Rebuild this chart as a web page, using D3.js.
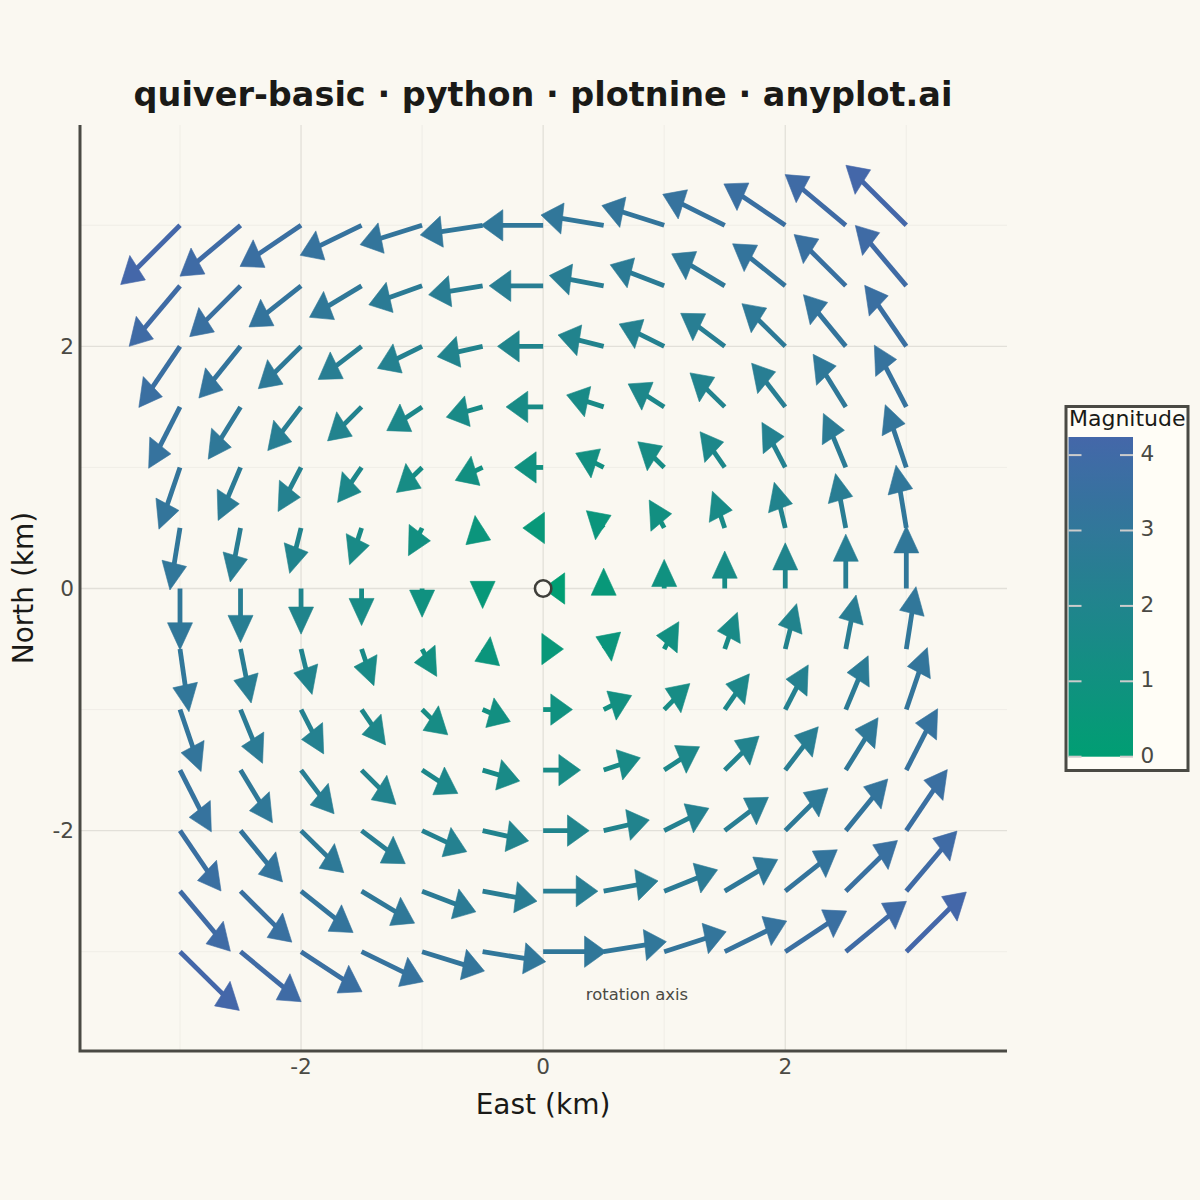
<!DOCTYPE html>
<html><head><meta charset="utf-8">
<script src="https://cdn.jsdelivr.net/npm/d3@7"></script>
<style>html,body{margin:0;padding:0;background:#FAF8F1}svg{display:block}text{font-family:"DejaVu Sans",sans-serif}</style>
</head><body><div id="chart"></div>
<script>
const titleText = "quiver-basic · python · plotnine · anyplot.ai";
const gridX = [-3,-2.5,-2,-1.5,-1,-0.5,0,0.5,1,1.5,2,2.5,3];
const gridY = [3,2.5,2,1.5,1,0.5,0,-0.5,-1,-1.5,-2,-2.5,-3];
const xTicks = [-2,0,2];
const yTicks = [-2,0,2];
const xMinor = [-3,-1,1,3];
const yMinor = [-3,-1,1,3];
const legendTicks = [0,1,2,3,4];
const uRows = [
[-.49,-.50,-.504,-.507,-.512,-.515,-.512,-.518,-.515,-.512,-.507,-.501,-.499],
[-.42,-.42,-.43,-.43,-.44,-.446,-.446,-.449,-.446,-.438,-.435,-.427,-.421],
[-.34,-.344,-.353,-.358,-.369,-.375,-.377,-.377,-.372,-.364,-.358,-.35,-.344],
[-.259,-.267,-.275,-.281,-.292,-.30,-.306,-.306,-.298,-.287,-.278,-.27,-.264],
[-.174,-.185,-.19,-.198,-.212,-.226,-.237,-.231,-.218,-.204,-.193,-.185,-.174],
[-.083,-.085,-.094,-.099,-.113,-.138,-.168,-.143,-.124,-.102,-.091,-.085,-.085],
[0,0,0,0,0,0,-.001,0,0,0,0,0,0],
[.074,.088,.091,.102,.121,.14,.168,.14,.121,.105,.094,.085,.08],
[.174,.182,.187,.198,.212,.229,.242,.231,.212,.204,.19,.185,.174],
[.259,.264,.273,.284,.295,.306,.309,.303,.292,.284,.273,.267,.259],
[.339,.347,.353,.361,.369,.38,.38,.377,.369,.361,.353,.347,.339],
[.416,.424,.43,.438,.444,.449,.452,.449,.441,.438,.43,.427,.419],
[.49,.501,.504,.51,.515,.521,.521,.518,.512,.512,.507,.501,.496]];
const vRows = [
[-.49,-.42,-.34,-.248,-.16,-.08,0,.085,.163,.256,.342,.419,.496],
[-.50,-.42,-.34,-.26,-.157,-.074,0,.085,.174,.264,.347,.424,.499],
[-.504,-.427,-.35,-.273,-.182,-.085,0,.094,.185,.273,.353,.427,.504],
[-.507,-.432,-.361,-.281,-.196,-.085,0,.099,.19,.281,.361,.435,.51],
[-.51,-.438,-.364,-.289,-.207,-.107,0,.118,.212,.295,.372,.446,.518],
[-.512,-.446,-.375,-.303,-.229,-.138,0,.143,.231,.303,.377,.449,.518],
[-.507,-.446,-.377,-.306,-.237,-.165,0,.168,.24,.309,.377,.449,.518],
[-.518,-.446,-.375,-.303,-.226,-.138,0,.14,.226,.303,.375,.446,.515],
[-.512,-.444,-.366,-.292,-.209,-.099,0,.116,.215,.295,.369,.444,.512],
[-.51,-.435,-.361,-.284,-.193,-.091,0,.102,.193,.281,.358,.433,.507],
[-.499,-.424,-.347,-.273,-.174,-.085,0,.088,.185,.275,.353,.427,.504],
[-.496,-.421,-.342,-.264,-.171,-.083,0,.085,.176,.262,.342,.419,.496],
[-.485,-.413,-.331,-.248,-.16,-.083,0,.083,.165,.253,.336,.416,.493]];
const magRows = [
[4.24,3.91,3.61,3.35,3.16,3.04,3,3.04,3.16,3.35,3.61,3.91,4.24],
[3.91,3.54,3.2,2.92,2.69,2.55,2.5,2.55,2.69,2.92,3.2,3.54,3.91],
[3.61,3.2,2.83,2.5,2.24,2.06,2,2.06,2.24,2.5,2.83,3.2,3.61],
[3.35,2.92,2.5,2.12,1.8,1.58,1.5,1.58,1.8,2.12,2.5,2.92,3.35],
[3.16,2.69,2.24,1.8,1.41,1.12,1,1.12,1.41,1.8,2.24,2.69,3.16],
[3.04,2.55,2.06,1.58,1.12,.71,.5,.71,1.12,1.58,2.06,2.55,3.04],
[3,2.5,2,1.5,1,.5,0,.5,1,1.5,2,2.5,3],
[3.04,2.55,2.06,1.58,1.12,.71,.5,.71,1.12,1.58,2.06,2.55,3.04],
[3.16,2.69,2.24,1.8,1.41,1.12,1,1.12,1.41,1.8,2.24,2.69,3.16],
[3.35,2.92,2.5,2.12,1.8,1.58,1.5,1.58,1.8,2.12,2.5,2.92,3.35],
[3.61,3.2,2.83,2.5,2.24,2.06,2,2.06,2.24,2.5,2.83,3.2,3.61],
[3.91,3.54,3.2,2.92,2.69,2.55,2.5,2.55,2.69,2.92,3.2,3.54,3.91],
[4.24,3.91,3.61,3.35,3.16,3.04,3,3.04,3.16,3.35,3.61,3.91,4.24]];
const colorLow = "#009E73", colorHigh = "#4467A9";
const BG = "#FAF8F1", INK = "#1A1A17", SOFT = "#4A4A44";

const L = 80, R = 1007, T = 125, B = 1051;
const x = d3.scaleLinear().domain([-3, 3]).range([180, 906.3]);
const y = d3.scaleLinear().domain([-3, 3]).range([951.7, 225.3]);
const color = d3.scaleLinear().domain([0, 4.24]).range([colorLow, colorHigh]).interpolate(d3.interpolateRgb);

const svg = d3.select("#chart").append("svg").attr("width",1200).attr("height",1200);
svg.append("rect").attr("width",1200).attr("height",1200).attr("fill",BG);

// grid
const g = svg.append("g");
xMinor.forEach(v => g.append("line").attr("x1",x(v)).attr("x2",x(v)).attr("y1",T).attr("y2",B).attr("stroke","#EDEBE4").attr("stroke-width",0.8));
yMinor.forEach(v => g.append("line").attr("y1",y(v)).attr("y2",y(v)).attr("x1",L).attr("x2",R).attr("stroke","#EDEBE4").attr("stroke-width",0.8));
xTicks.forEach(v => g.append("line").attr("x1",x(v)).attr("x2",x(v)).attr("y1",T).attr("y2",B).attr("stroke","#E2E0D9").attr("stroke-width",1.3));
yTicks.forEach(v => g.append("line").attr("y1",y(v)).attr("y2",y(v)).attr("x1",L).attr("x2",R).attr("stroke","#E2E0D9").attr("stroke-width",1.3));

// arrows: the head is a 30-degree barb pair in a space whose vertical axis is stretched
const HX = 25, HY = 31.3, HA = Math.PI/6;
const field = [];
gridX.forEach((xv,i) => gridY.forEach((yv,j) => field.push({x:xv,y:yv,u:uRows[j][i],v:vRows[j][i],m:magRows[j][i]})));
const arrows = svg.append("g").selectAll("g").data(field).join("g");
arrows.each(function(d){
  const x0=x(d.x), y0=y(d.y), x1=x(d.x+d.u), y1=y(d.y+d.v);
  const len=Math.hypot(x1-x0,y1-y0)||1, ux=(x1-x0)/len, uy=(y1-y0)/len;
  const back=Math.atan2((y0-y1)*HX/HY, x0-x1), c=color(d.m);
  const s=d3.select(this);
  if(len>10) s.append("line").attr("x1",x0).attr("y1",y0).attr("x2",x1-ux*10).attr("y2",y1-uy*10).attr("stroke",c).attr("stroke-width",4.8);
  const corner = a => [x1+HX*Math.cos(a), y1+HY*Math.sin(a)];
  s.append("path").attr("d",d3.line()([[x1,y1],corner(back+HA),corner(back-HA)])+"Z").attr("fill",c).attr("stroke",c).attr("stroke-width",0.6);
});

// centre marker and note
svg.append("circle").attr("cx",x(0)).attr("cy",y(0)).attr("r",8.2).attr("fill",BG).attr("stroke","#3F3F3A").attr("stroke-width",2.6);
svg.append("text").attr("x",637).attr("y",1000).attr("text-anchor","middle").attr("font-size",16.4).attr("fill",SOFT).text("rotation axis");

// axes
svg.append("path").attr("d",`M${L},${T}V${B}H${R}`).attr("fill","none").attr("stroke",SOFT).attr("stroke-width",3);
xTicks.forEach(v => svg.append("text").attr("x",x(v)).attr("y",1074).attr("text-anchor","middle").attr("font-size",21.6).attr("fill",SOFT).text(v));
yTicks.forEach(v => svg.append("text").attr("x",74).attr("y",y(v)+7.5).attr("text-anchor","end").attr("font-size",21.6).attr("fill",SOFT).text(v));
svg.append("text").attr("x",543).attr("y",1113.5).attr("text-anchor","middle").attr("font-size",28).attr("fill",INK).text("East (km)");
svg.append("text").attr("transform","translate(33,588) rotate(-90)").attr("text-anchor","middle").attr("font-size",28).attr("fill",INK).text("North (km)");
svg.append("text").attr("x",543).attr("y",106.3).attr("text-anchor","middle").attr("font-size",33.5).attr("font-weight","bold").attr("fill",INK).text(titleText);

// legend
svg.append("rect").attr("x",1066).attr("y",406.5).attr("width",122).attr("height",364).attr("fill","#FFFDF6").attr("stroke",SOFT).attr("stroke-width",3);
svg.append("text").attr("x",1069).attr("y",426).attr("font-size",22).attr("fill",INK).text("Magnitude");
const barY = d3.scaleLinear().domain([0,4.24]).range([756.7,437]);
const defs = svg.append("defs").append("linearGradient").attr("id","cb").attr("x1",0).attr("x2",0).attr("y1",1).attr("y2",0);
d3.range(0,1.0001,0.1).forEach(t => defs.append("stop").attr("offset",t).attr("stop-color",color(t*4.24)));
svg.append("rect").attr("x",1068.5).attr("y",437).attr("width",64.5).attr("height",319.7).attr("fill","url(#cb)");
legendTicks.forEach(v => {
  [[1068.5,1081.5],[1120,1133]].forEach(([a,b]) => svg.append("line").attr("x1",a).attr("x2",b).attr("y1",barY(v)).attr("y2",barY(v)).attr("stroke","#CCCCCC").attr("stroke-width",2));
  svg.append("text").attr("x",1140.5).attr("y",barY(v)+6).attr("font-size",21.6).attr("fill",SOFT).text(v);
});
</script></body></html>
